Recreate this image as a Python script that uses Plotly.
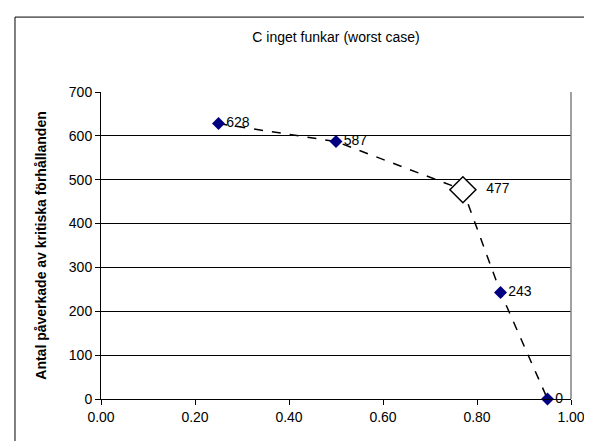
import plotly.graph_objects as go

x_vals = [0.25, 0.50, 0.77, 0.85, 0.95]
y_vals = [628, 587, 477, 243, 0]
labels = ["628", "587", "477", "243", "0"]
highlight_index = 2

title_text = "C inget funkar (worst case)"
y_title = "Antal påverkade av kritiska förhållanden"
x_ticks = [0.0, 0.2, 0.4, 0.6, 0.8, 1.0]
x_ticklabels = ["0.00", "0.20", "0.40", "0.60", "0.80", "1.00"]
y_ticks = [0, 100, 200, 300, 400, 500, 600, 700]

font = "Liberation Sans, Arial, sans-serif"
fs = 14

fig = go.Figure()
# dashed line with navy diamonds
fig.add_trace(go.Scatter(
    x=x_vals, y=y_vals, mode="lines+markers",
    line=dict(color="black", width=1.5, dash="dash"),
    marker=dict(symbol="diamond", size=10, color="#000080", line=dict(width=0)),
    showlegend=False, cliponaxis=False,
))
# highlighted point
fig.add_trace(go.Scatter(
    x=[x_vals[highlight_index]], y=[y_vals[highlight_index]], mode="markers",
    marker=dict(symbol="diamond", size=20, color="white",
                line=dict(color="black", width=1.5)),
    showlegend=False, cliponaxis=False,
))
# data labels
fig.add_trace(go.Scatter(
    x=x_vals, y=y_vals, mode="text",
    text=[("  " + t) if i != highlight_index else ("      " + t) for i, t in enumerate(labels)],
    textposition="middle right",
    textfont=dict(family=font, size=fs, color="black"),
    showlegend=False, cliponaxis=False,
))

fig.update_layout(
    width=592, height=441,
    margin=dict(l=93, r=29, t=84, b=50),
    paper_bgcolor="white", plot_bgcolor="white",
    font=dict(family=font, size=fs, color="black"),
    title=dict(text=title_text, x=0.5, xref="paper", xanchor="center",
               y=0.935, yref="container", yanchor="middle",
               font=dict(family=font, size=fs, color="black")),
    xaxis=dict(range=[0, 1], tickvals=x_ticks, ticktext=x_ticklabels,
               showgrid=False, zeroline=False, showline=True, linecolor="black",
               linewidth=1, ticks="outside", ticklen=5, tickcolor="black",
               tickfont=dict(size=fs)),
    yaxis=dict(range=[0, 700], tickvals=y_ticks, showgrid=True, gridcolor="black",
               gridwidth=1, zeroline=False, showline=True, linecolor="black",
               linewidth=1, ticks="outside", ticklen=5, tickcolor="black",
               title=dict(text="<b>" + y_title + "</b>", font=dict(size=fs), standoff=18),
               tickfont=dict(size=fs)),
    shapes=[
        dict(type="line", xref="paper", yref="paper", x0=1, x1=1, y0=0, y1=1,
             line=dict(color="#808080", width=1.5)),
        dict(type="rect", xref="paper", yref="paper", x0=-0.183, x1=1.053,
             y0=-0.150, y1=1.244, line=dict(color="black", width=1)),
    ],
)

fig.write_html("out.html")
